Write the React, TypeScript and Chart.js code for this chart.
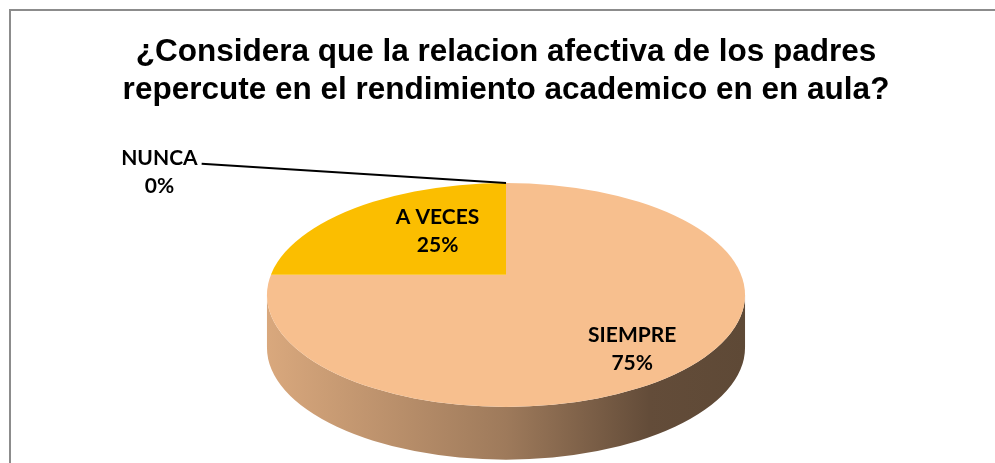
import React, { useEffect, useRef } from "react";
import { Chart, registerables } from "chart.js";

Chart.register(...registerables);

// ---- data ----
const TITLE_LINES = [
  "¿Considera que la relacion afectiva de los padres",
  "repercute en el rendimiento academico en en aula?",
];
const CATEGORIES = ["SIEMPRE", "A VECES", "NUNCA"];
const PERCENTS = [75, 25, 0];
const COLORS = ["#F7BF8E", "#FBBE00", "#4F81BD"];
const LABEL_FRACTIONS = [0.76, 0.55, 0];

// ---- style ----
const ASPECT = 2.134; // horizontal / vertical radius of the tilted pie
const DEPTH = 0.47; // side height, in units of the vertical radius
const VERTEX_SHIFT = 0.18; // perspective shift of the pie centre
const KX = ASPECT * 1.12;
const KY = 1.45;
const OUTSIDE_LABEL = { dx: -1.45, dy: -1.1 };
const LABEL_FONT = "bold 21px Lato, 'Open Sans', sans-serif";
const LINE_GAP = 28;

function hexToRgb(hex: string): number[] {
  const h = hex.replace("#", "");
  return [0, 2, 4].map((i) => parseInt(h.slice(i, i + 2), 16));
}

function rimT(cx: number, cy: number, RX: number, RY: number, Vy: number, dx: number, dy: number) {
  const a = (dx / RX) ** 2 + (dy / RY) ** 2;
  const b = (2 * (Vy - cy) * dy) / (RY * RY);
  const c = ((Vy - cy) / RY) ** 2 - 1;
  return (-b + Math.sqrt(b * b - 4 * a * c)) / (2 * a);
}

const pie3d = {
  id: "pie3d",
  beforeDraw(chart: any) {
    const ctx = chart.ctx;
    ctx.save();
    ctx.fillStyle = "#ffffff";
    ctx.fillRect(0, 0, chart.width, chart.height);
    ctx.strokeStyle = "#8C8C8C";
    ctx.lineWidth = 2;
    ctx.strokeRect(10, 10, chart.width + 40, chart.height + 40);
    ctx.restore();
  },
  beforeDatasetsDraw(chart: any) {
    const arcs = chart.getDatasetMeta(0).data;
    if (!arcs.length) return;
    const ctx = chart.ctx;
    const { x: cx, y: cy, outerRadius: r } = arcs[0];
    const RX = r * ASPECT;
    const RY = r;
    const D = r * DEPTH;
    // sides (front half only)
    arcs.forEach((arc: any, i: number) => {
      const { startAngle, endAngle } = arc;
      for (const off of [0, 2 * Math.PI]) {
        const s = Math.max(startAngle, off);
        const e = Math.min(endAngle, off + Math.PI);
        if (e - s <= 1e-6) continue;
        const [R, G, B] = hexToRgb(COLORS[i]);
        const g = ctx.createLinearGradient(cx - RX, 0, cx + RX, 0);
        const stop = (p: number, k: number) =>
          g.addColorStop(p, `rgb(${Math.round(R * k)},${Math.round(G * k)},${Math.round(B * k)})`);
        stop(0, 0.88);
        stop(0.5, 0.64);
        stop(0.8, 0.4);
        stop(1, 0.38);
        ctx.save();
        ctx.fillStyle = g;
        ctx.beginPath();
        ctx.ellipse(cx, cy, RX, RY, 0, s - off, e - off, false);
        ctx.ellipse(cx, cy + D, RX, RY, 0, e - off, s - off, true);
        ctx.closePath();
        ctx.fill();
        ctx.restore();
      }
    });
    // top face
    const Vy = cy - RY * VERTEX_SHIFT;
    ctx.save();
    ctx.beginPath();
    ctx.ellipse(cx, cy, RX, RY, 0, 0, Math.PI * 2);
    ctx.clip();
    ctx.translate(cx, Vy);
    ctx.scale(KX, KY);
    ctx.translate(-cx, -cy);
    arcs.forEach((a: any) => a.draw(ctx));
    ctx.restore();
    return false;
  },
  afterDraw(chart: any) {
    const arcs = chart.getDatasetMeta(0).data;
    if (!arcs.length) return;
    const ctx = chart.ctx;
    const { x: cx, y: cy, outerRadius: r } = arcs[0];
    const RX = r * ASPECT;
    const RY = r;
    const Vy = cy - RY * VERTEX_SHIFT;
    ctx.save();
    ctx.font = LABEL_FONT;
    ctx.fillStyle = "#000";
    ctx.textAlign = "center";
    ctx.textBaseline = "middle";
    arcs.forEach((arc: any, i: number) => {
      const mid = (arc.startAngle + arc.endAngle) / 2;
      const dx = KX * r * Math.cos(mid);
      const dy = KY * r * Math.sin(mid);
      const t = rimT(cx, cy, RX, RY, Vy, dx, dy);
      const l1 = CATEGORIES[i];
      const l2 = PERCENTS[i] + "%";
      let ax: number, ay: number;
      if (PERCENTS[i] > 0) {
        const f = LABEL_FRACTIONS[i];
        ax = cx + f * t * dx;
        ay = Vy + f * t * dy - 2;
      } else {
        ax = cx + OUTSIDE_LABEL.dx * RX;
        ay = cy + OUTSIDE_LABEL.dy * RY;
        const w = ctx.measureText(l1).width;
        ctx.beginPath();
        ctx.strokeStyle = "#000";
        ctx.lineWidth = 2.2;
        ctx.moveTo(ax + w / 2 + 4, ay - LINE_GAP / 2 + 6);
        ctx.lineTo(cx + t * dx, Vy + t * dy);
        ctx.stroke();
      }
      ctx.fillText(l1, ax, ay - LINE_GAP / 2);
      ctx.fillText(l2, ax, ay + LINE_GAP / 2);
    });
    ctx.restore();
  },
};

export default function App() {
  const ref = useRef<HTMLCanvasElement | null>(null);
  useEffect(() => {
    if (!ref.current) return;
    const chart = new Chart(ref.current, {
      type: "pie",
      data: {
        labels: CATEGORIES,
        datasets: [
          {
            data: PERCENTS,
            backgroundColor: COLORS,
            borderWidth: 0,
            hoverBorderWidth: 0,
            hoverOffset: 0,
            offset: 0,
          },
        ],
      },
      options: {
        animation: false,
        responsive: false,
        devicePixelRatio: 1,
        rotation: 0,
        events: [],
        layout: { padding: { left: 17, right: 0, top: 0, bottom: 56 } },
        plugins: {
          legend: { display: false },
          tooltip: { enabled: false },
          title: {
            display: true,
            text: TITLE_LINES,
            color: "#000",
            font: { family: "'Liberation Sans', Arial, sans-serif", size: 31.5, weight: "bold", lineHeight: 1.206 },
            padding: { top: 33, bottom: 74 },
          },
        },
      } as any,
      plugins: [pie3d as any],
    });
    return () => chart.destroy();
  }, []);
  return (
    <div style={{ position: "absolute", left: 0, top: 0, width: 995, height: 463, overflow: "hidden" }}>
      <canvas ref={ref} width={995} height={463} style={{ display: "block" }} />
    </div>
  );
}
